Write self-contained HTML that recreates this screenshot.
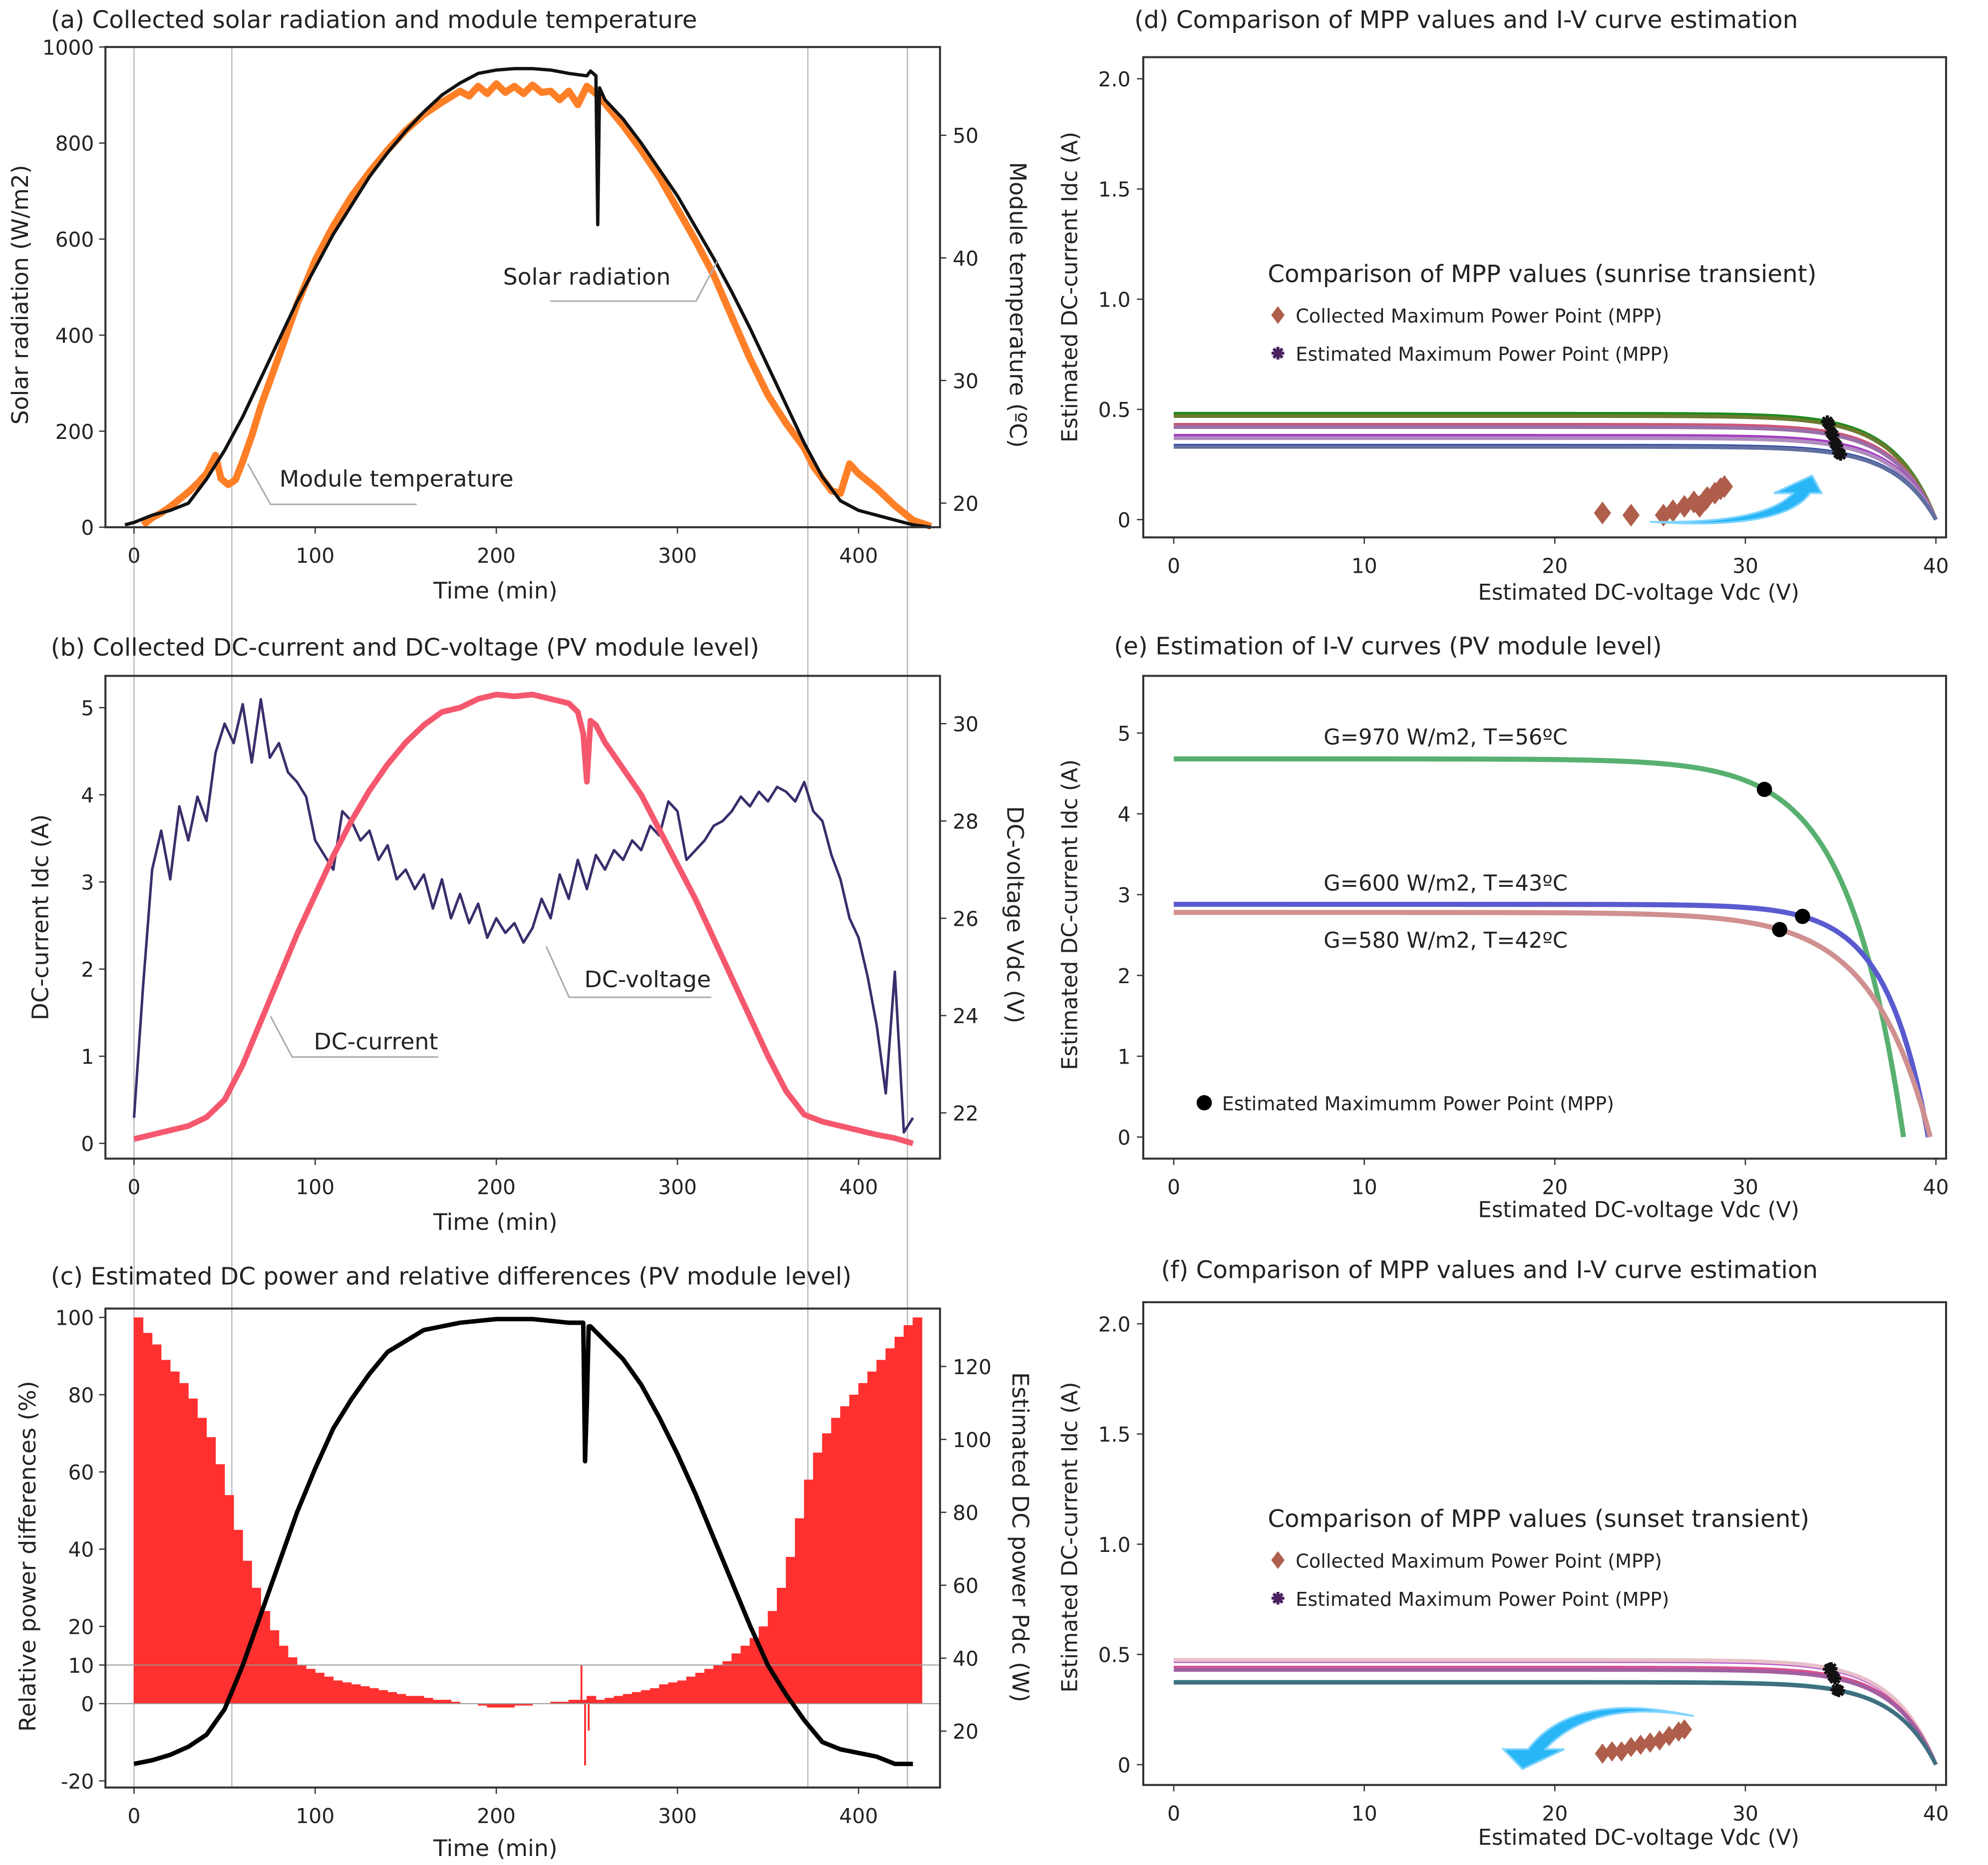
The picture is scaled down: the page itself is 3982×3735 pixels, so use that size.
<!DOCTYPE html>
<html><head><meta charset="utf-8"><style>
html,body{margin:0;padding:0;background:#fff;}
svg{display:block;}
text{font-family:"DejaVu Sans","Liberation Sans",sans-serif;fill:#222;}
</style></head><body>
<svg id="fig" width="3982" height="3735" viewBox="0 0 1565 1468" preserveAspectRatio="none" xmlns="http://www.w3.org/2000/svg">
<rect x="0" y="0" width="1565" height="1468" fill="#fff"/>
<g id="g"></g>
</svg>
<script>
// ---------- Panel (a) data ----------
const radT=[-5,0,10,20,30,40,50,60,70,80,90,100,110,120,130,140,150,160,170,180,190,200,210,220,230,240,250,252,255,256,257,260,270,280,290,300,310,320,330,340,350,360,370,380,390,400,410,420,430,440];
const radV=[5,10,25,35,50,100,160,230,310,390,470,540,610,670,730,780,825,865,900,925,945,952,955,955,952,945,940,950,940,630,915,890,850,800,745,690,625,560,490,415,335,255,175,105,55,35,25,15,5,0];
const tmpT=[5,10,15,20,25,30,35,40,45,48,52,56,60,65,70,80,90,100,110,120,130,140,150,160,170,180,185,190,195,200,205,210,215,220,225,230,235,240,245,250,255,260,270,280,290,300,310,320,330,340,350,360,365,370,375,380,385,390,395,400,410,420,430,440];
const tmpV=[18.2,18.8,19.2,19.7,20.3,20.9,21.6,22.4,23.9,22.0,21.5,21.9,23.4,25.5,27.9,32,36.2,39.8,42.6,45,47,48.8,50.4,51.7,52.7,53.6,53.2,54,53.4,54.2,53.5,54,53.4,54.1,53.5,53.6,52.9,53.6,52.5,54,53.4,52.6,50.8,48.8,46.6,44.0,41.4,38.6,35.2,31.8,28.8,26.5,25.5,24.5,23.0,22.0,21.0,20.8,23.2,22.4,21.2,19.8,18.6,18.1];
// ---------- Panel (b) data ----------
const curT=[0,10,20,30,40,50,60,70,80,90,100,110,120,130,140,150,160,170,180,190,200,210,220,230,240,245,248,250,252,255,260,270,280,290,300,310,320,330,340,350,360,370,380,390,400,410,420,430];
const curV=[0.05,0.1,0.15,0.2,0.3,0.5,0.9,1.4,1.9,2.4,2.85,3.3,3.7,4.05,4.35,4.6,4.8,4.95,5.0,5.1,5.15,5.13,5.15,5.1,5.05,4.95,4.7,4.15,4.85,4.8,4.6,4.3,4.0,3.6,3.2,2.8,2.35,1.9,1.45,1.0,0.6,0.33,0.25,0.2,0.15,0.1,0.06,0.0];
const volV=[21.9,24.6,27.0,27.8,26.8,28.3,27.6,28.5,28.0,29.4,30.0,29.6,30.4,29.2,30.5,29.3,29.6,29.0,28.8,28.5,27.6,27.3,27.0,28.2,28.0,27.6,27.8,27.2,27.5,26.8,27.0,26.6,26.9,26.2,26.8,26.0,26.5,25.9,26.3,25.6,26.0,25.7,25.9,25.5,25.8,26.4,26.0,26.9,26.4,27.2,26.6,27.3,27.0,27.4,27.2,27.6,27.4,27.9,27.7,28.4,28.2,27.2,27.4,27.6,27.9,28.0,28.2,28.5,28.3,28.6,28.4,28.7,28.6,28.4,28.8,28.2,28.0,27.3,26.8,26.0,25.6,24.8,23.8,22.4,24.9,21.6,21.9];
// ---------- Panel (c) data ----------
const diffV=[100,96,93,89,86,83,79,74,69,62,54,45,37,30,24,19,15,12,10,9,8,7,6,5.5,5,4.5,4,3.5,3,2.5,2,2,1.5,1,1,0.5,0,0,-0.5,-1,-1,-1,-0.5,-0.5,0,0,0.5,0.5,1,1,2,1,1.5,2,2.5,3,3.5,4,5,5.5,6,7,8,9,10,11,13,15,17,20,24,30,38,48,58,65,70,74,77,80,83,86,89,92,95,98,100];
const spikeT=[247,249,251];
const spikeV=[10,-16,-7];
const powT=[0,10,20,30,40,50,60,70,80,90,100,110,120,130,140,150,160,170,180,200,220,240,248,249,250,251,252,260,270,280,290,300,310,320,330,340,350,360,370,380,390,400,410,420,430];
const powV=[11,12,13.5,15.7,19,26,38,52,66,80,92,103,111,118,124,127,130,131,132,133,133,132,132,94,110,131,131,127,122,115,106,96,85,73,61,49,38,30,23,17,15,14,13,11,11];
// ---------- Panel (d),(f) data ----------
const dIsc=[0.48,0.47,0.43,0.42,0.38,0.37,0.335,0.33];
const dColors=["#1d8a1d","#6a7a30","#d05575","#9a6fa8","#a53cc0","#b08cc0","#2a45a5","#6270a0"];
const dMppV=[34.3,34.4,34.5,34.6,34.7,34.8,34.9,35.0];
const dColV=[22.5,24.0,25.7,26.2,26.8,27.3,27.6,28.0,28.4,28.7,28.9,27.9];
const dColI=[0.03,0.02,0.02,0.04,0.06,0.08,0.06,0.10,0.12,0.14,0.15,0.09];
const fIsc=[0.47,0.475,0.44,0.43,0.375,0.372];
const fColors=["#b050d0","#e8c0c8","#d85090","#a060a0","#1a8080","#407080"];
const fMppV=[34.4,34.5,34.6,34.7,34.8,34.9];
const fColV=[22.5,23.0,23.5,24.0,24.5,25.0,25.5,26.0,26.5,26.8];
const fColI=[0.05,0.06,0.06,0.08,0.09,0.10,0.11,0.13,0.15,0.16];
// ---------- Panel (e) data ----------
const eIsc=[4.68,2.88,2.78];
const eVoc=[38.3,39.6,39.7];
const eA=[2.9,2.23,3.07];
const eMppV=[31.0,33.0,31.8];
const eColors=["#58b070","#5a5ad0","#d09090"];

const NS="http://www.w3.org/2000/svg";
const G=document.getElementById('g');
function mk(tag,at,par){const e=document.createElementNS(NS,tag);for(const k in at)e.setAttribute(k,at[k]);(par||G).appendChild(e);return e;}
function txt(s,x,y,sz,anchor,rot,name){const e=mk('text',{x:x,y:y,'font-size':sz,'text-anchor':anchor||'start'});if(rot)e.setAttribute('transform','rotate('+rot+' '+x+' '+y+')');e.textContent=s;

return e;}
function line(x1,y1,x2,y2,c,w,name){const e=mk('line',{x1:x1,y1:y1,x2:x2,y2:y2,stroke:c,'stroke-width':w});

return e;}
function poly(pts,c,w,name){const e=mk('polyline',{points:pts.map(p=>p[0].toFixed(2)+','+p[1].toFixed(2)).join(' '),fill:'none',stroke:c,'stroke-width':w,'stroke-linejoin':'round'});

return e;}
function frame(x1,y1,x2,y2,name){const e=mk('rect',{x:x1,y:y1,width:x2-x1,height:y2-y1,fill:'none',stroke:'#333','stroke-width':1.6});

}

const tx=t=>105.5+1.426*t;
[0,54,372,427].forEach(t=>{line(tx(t),37,tx(t),1407,'#bbb',1,'reference-line');});

function leftTicks(vals,fy,x0,fmt,name){vals.forEach(v=>{const y=fy(v);line(x0-5,y,x0,y,'#333',1,name+'-tick');txt(fmt?fmt(v):String(v),x0-9,y+6,16,'end',0,name+'-tick-label');});}
function rightTicks(vals,fy,x0,name){vals.forEach(v=>{const y=fy(v);line(x0,y,x0+5,y,'#333',1,name+'-tick');txt(String(v),x0+10,y+6,16,'start',0,name+'-tick-label');});}
function bottomTicks(vals,fx,y0,name){vals.forEach(v=>{const x=fx(v);line(x,y0,x,y0+5,'#333',1,name+'-tick');txt(String(v),x,y0+28,16,'middle',0,name+'-tick-label');});}

// ===== Panel (a) =====
const ay=v=>415-0.378*v, ayT=v=>396-9.65*(v-20);
poly(tmpT.map((t,i)=>[tx(t),ayT(tmpV[i])]),'#ff7f27',5.5,'module-temperature-line');
poly(radT.map((t,i)=>[tx(t),ay(radV[i])]),'#111',2.6,'solar-radiation-line');
frame(83,37,740,415,'panel-a-frame');
leftTicks([0,200,400,600,800,1000],ay,83,null,'a-y');
rightTicks([20,30,40,50],ayT,740,'a-y2');
bottomTicks([0,100,200,300,400],tx,415,'a-x');
txt('(a) Collected solar radiation and module temperature',40,22,19,'start',0,'panel-a-title');
txt('Solar radiation (W/m2)',22,232,18,'middle',-90,'a-y-axis-title');
txt('Module temperature (ºC)',795,240,18,'middle',90,'a-y2-axis-title');
txt('Time (min)',390,471,18,'middle',0,'a-x-axis-title');
txt('Solar radiation',396,224,18,'start',0,'solar-radiation-annotation');
poly([[433,237],[548,237],[565,205]],'#aaa',1.2,'solar-annotation-leader');
txt('Module temperature',220,383,18,'start',0,'module-temperature-annotation');
poly([[195,365],[213,397],[328,397]],'#aaa',1.2,'module-annotation-leader');

// ===== Panel (b) =====
const by=v=>900-68.6*v, byV=v=>876-38.3*(v-22);
poly(volV.map((v,i)=>[tx(i*5),byV(v)]),'#3b2d6b',2,'dc-voltage-line');
poly(curT.map((t,i)=>[tx(t),by(curV[i])]),'#f5586e',4.5,'dc-current-line');
frame(83,532,740,912,'panel-b-frame');
leftTicks([0,1,2,3,4,5],by,83,null,'b-y');
rightTicks([22,24,26,28,30],byV,740,'b-y2');
bottomTicks([0,100,200,300,400],tx,912,'b-x');
txt('(b) Collected DC-current and DC-voltage (PV module level)',40,516,19,'start',0,'panel-b-title');
txt('DC-current Idc (A)',38,722,18,'middle',-90,'b-y-axis-title');
txt('DC-voltage Vdc (V)',793,720,18,'middle',90,'b-y2-axis-title');
txt('Time (min)',390,968,18,'middle',0,'b-x-axis-title');
txt('DC-voltage',460,777,18,'start',0,'dc-voltage-annotation');
poly([[430,745],[448,785],[560,785]],'#aaa',1.2,'voltage-annotation-leader');
txt('DC-current',247,826,18,'start',0,'dc-current-annotation');
poly([[213,800],[230,832],[345,832]],'#aaa',1.2,'current-annotation-leader');

// ===== Panel (c) =====
const cy=v=>1341-3.04*v, cyP=v=>1420-2.87*v;
diffV.forEach((v,i)=>{const x=tx(i*5),y0=cy(0),y1=cy(v);const r=mk('rect',{x:x-0.2,y:Math.min(y0,y1),width:1.426*5+0.4,height:Math.abs(y1-y0),fill:'#ff3030'});

});
spikeT.forEach((t,i)=>{line(tx(t),cy(0),tx(t),cy(spikeV[i]),'#ff3030',1.5,'relative-difference-spike');});
line(83,cy(10),740,cy(10),'#999',0.8,'ten-percent-line');
line(83,cy(0),740,cy(0),'#999',0.8,'zero-line');
poly(powT.map((t,i)=>[tx(t),cyP(powV[i])]),'#000',3.5,'estimated-power-line');
frame(83,1030,740,1407,'panel-c-frame');
leftTicks([100,80,60,40,20,10,0,-20],cy,83,null,'c-y');
rightTicks([20,40,60,80,100,120],cyP,740,'c-y2');
bottomTicks([0,100,200,300,400],tx,1407,'c-x');
txt('(c) Estimated DC power and relative differences (PV module level)',40,1011,19,'start',0,'panel-c-title');
txt('Relative power differences (%)',28,1225,18,'middle',-90,'c-y-axis-title');
txt('Estimated DC power Pdc (W)',797,1210,18,'middle',90,'c-y2-axis-title');
txt('Time (min)',390,1461,18,'middle',0,'c-x-axis-title');

// ===== I-V helpers =====
const vx=v=>924+15*v;
function ivPts(isc,voc,a,fy,vmax){const p=[];for(let v=0;v<voc;v+=0.25){const i=isc*(1-Math.exp((v-voc)/a));p.push([vx(v),fy(Math.max(i,0))]);}p.push([vx(voc),fy(0)]);return p;}
function ivAt(isc,voc,a,v){return isc*(1-Math.exp((v-voc)/a));}
function asterisk(x,y,name,col){const g=mk('g',{});
for(let k=0;k<4;k++){const an=k*Math.PI/4;mk('line',{x1:x-5*Math.cos(an),y1:y-5*Math.sin(an),x2:x+5*Math.cos(an),y2:y+5*Math.sin(an),stroke:col||'#111','stroke-width':2.4},g);}}
function diamond(x,y,s,name){const e=mk('polygon',{points:`${x},${y-s} ${x+s*0.75},${y} ${x},${y+s} ${x-s*0.75},${y}`,fill:'#b05e4c'});

}
function vTicksIV(fy,vals,x0,fmt,name){vals.forEach(v=>{const y=fy(v);line(x0-5,y,x0,y,'#333',1,name+'-tick');txt(fmt(v),x0-10,y+6,16,'end',0,name+'-tick-label');});}

// ===== Panel (d) =====
const dy=v=>409-173.5*v;
dIsc.forEach((isc,k)=>{poly(ivPts(isc,40,2.2,dy,40),dColors[k],3,'iv-curve');});
dIsc.forEach((isc,k)=>{asterisk(vx(dMppV[k]),dy(ivAt(isc,40,2.2,dMppV[k])),'estimated-mpp-marker');});
dColV.forEach((v,k)=>diamond(vx(v),dy(dColI[k]),9,'collected-mpp-marker'));
const arD=mk('path',{d:`M ${vx(25)} ${dy(-0.01)} Q ${vx(31)} ${dy(-0.02)} ${vx(32.5)} ${dy(0.12)} L ${vx(31.5)} ${dy(0.12)} L ${vx(33.5)} ${dy(0.2)} L ${vx(34)} ${dy(0.12)} L ${vx(33.4)} ${dy(0.12)} Q ${vx(32)} ${dy(-0.05)} ${vx(25)} ${dy(-0.01)} Z`,fill:'#29b6f6',stroke:'#7fd4ff','stroke-width':1.5});


frame(900,45,1532,423,'panel-d-frame');
vTicksIV(dy,[0,0.5,1.0,1.5,2.0],900,v=>v===0?'0':v.toFixed(1),'d-y');
bottomTicks([0,10,20,30,40],vx,423,'d-x');
txt('(d) Comparison of MPP values and I-V curve estimation',893,22,19,'start',0,'panel-d-title');
txt('Estimated DC-current Idc (A)',848,226,17,'middle',-90,'d-y-axis-title');
txt('Estimated DC-voltage Vdc (V)',1290,472,17,'middle',0,'d-x-axis-title');
txt('Comparison of MPP values (sunrise transient)',998,222,19,'start',0,'d-legend-title');
diamond(1006,248,7,'d-legend-diamond');
txt('Collected Maximum Power Point (MPP)',1020,254,15,'start',0,'d-legend-collected');
asterisk(1006,278,'d-legend-asterisk','#4a2060');
txt('Estimated Maximum Power Point (MPP)',1020,284,15,'start',0,'d-legend-estimated');

// ===== Panel (e) =====
const ey=v=>895-63.6*v;
eIsc.forEach((isc,k)=>{poly(ivPts(isc,eVoc[k],eA[k],ey,eVoc[k]),eColors[k],4,'iv-curve-e');});
eIsc.forEach((isc,k)=>{const c=mk('circle',{cx:vx(eMppV[k]),cy:ey(ivAt(isc,eVoc[k],eA[k],eMppV[k])),r:6,fill:'#000'});

});
frame(900,532,1532,912,'panel-e-frame');
vTicksIV(ey,[0,1,2,3,4,5],900,v=>String(v),'e-y');
bottomTicks([0,10,20,30,40],vx,912,'e-x');
txt('(e) Estimation of I-V curves (PV module level)',877,515,19,'start',0,'panel-e-title');
txt('Estimated DC-current Idc (A)',848,720,17,'middle',-90,'e-y-axis-title');
txt('Estimated DC-voltage Vdc (V)',1290,958,17,'middle',0,'e-x-axis-title');
txt('G=970 W/m2, T=56ºC',1042,586,17,'start',0,'g970-label');
txt('G=600 W/m2, T=43ºC',1042,701,17,'start',0,'g600-label');
txt('G=580 W/m2, T=42ºC',1042,746,17,'start',0,'g580-label');
const ld=mk('circle',{cx:948,cy:868,r:6,fill:'#000'});


txt('Estimated Maximumm Power Point (MPP)',962,874,15,'start',0,'e-legend-text');

// ===== Panel (f) =====
const fy=v=>1389-173.5*v;
fIsc.forEach((isc,k)=>{poly(ivPts(isc,40,2.2,fy,40),fColors[k],3,'iv-curve-f');});
fIsc.forEach((isc,k)=>{asterisk(vx(fMppV[k]),fy(ivAt(isc,40,2.2,fMppV[k])),'estimated-mpp-marker');});
fColV.forEach((v,k)=>diamond(vx(v),fy(fColI[k]),8,'collected-mpp-marker'));
const arF=mk('path',{d:`M ${vx(27.3)} ${fy(0.22)} Q ${vx(22)} ${fy(0.3)} ${vx(19.5)} ${fy(0.07)} L ${vx(20.5)} ${fy(0.07)} L ${vx(18.3)} ${fy(-0.02)} L ${vx(17.3)} ${fy(0.07)} L ${vx(18.6)} ${fy(0.07)} Q ${vx(21)} ${fy(0.34)} ${vx(27.3)} ${fy(0.22)} Z`,fill:'#29b6f6',stroke:'#7fd4ff','stroke-width':1.5});


frame(900,1025,1532,1405,'panel-f-frame');
vTicksIV(fy,[0,0.5,1.0,1.5,2.0],900,v=>v===0?'0':v.toFixed(1),'f-y');
bottomTicks([0,10,20,30,40],vx,1405,'f-x');
txt('(f) Comparison of MPP values and I-V curve estimation',914,1006,19,'start',0,'panel-f-title');
txt('Estimated DC-current Idc (A)',848,1210,17,'middle',-90,'f-y-axis-title');
txt('Estimated DC-voltage Vdc (V)',1290,1452,17,'middle',0,'f-x-axis-title');
txt('Comparison of MPP values (sunset transient)',998,1202,19,'start',0,'f-legend-title');
diamond(1006,1228,7,'f-legend-diamond');
txt('Collected Maximum Power Point (MPP)',1020,1234,15,'start',0,'f-legend-collected');
asterisk(1006,1258,'f-legend-asterisk','#4a2060');
txt('Estimated Maximum Power Point (MPP)',1020,1264,15,'start',0,'f-legend-estimated');
</script>
</body></html>
